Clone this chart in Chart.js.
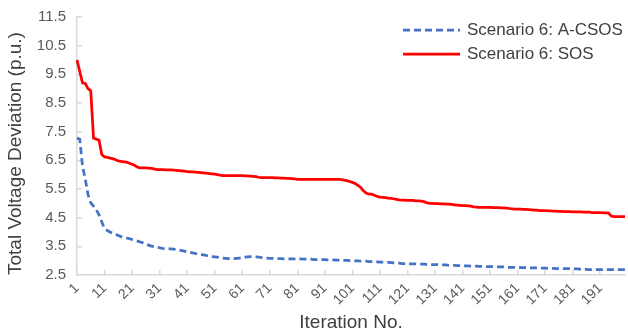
<!DOCTYPE html>
<html>
<head>
<meta charset="utf-8">
<script src="https://cdn.jsdelivr.net/npm/chart.js@4.4.0/dist/chart.umd.min.js"></script>
<style>
  html, body { margin: 0; padding: 0; background: #fff; }
  #wrap { width: 628px; height: 334px; }
</style>
</head>
<body>
<div id="wrap"><canvas id="convChart" width="628" height="334"></canvas></div>
<script>
// iteration numbers 1..200
const iterations = [];
for (let i = 1; i <= 200; i++) iterations.push(String(i));

const seriesNames = ["Scenario 6: A-CSOS", "Scenario 6: SOS"];

// Scenario 6: A-CSOS
const acsosValues = [
    7.28, 7.24, 6.3, 5.85, 5.3, 5.02, 4.9, 4.78, 4.6, 4.35,
    4.12, 4.05, 4.0, 3.95, 3.92, 3.88, 3.84, 3.81, 3.79, 3.77,
    3.74, 3.71, 3.68, 3.65, 3.62, 3.58, 3.54, 3.51, 3.49, 3.47,
    3.45, 3.43, 3.42, 3.42, 3.41, 3.4, 3.39, 3.37, 3.35, 3.33,
    3.31, 3.29, 3.27, 3.25, 3.23, 3.21, 3.2, 3.18, 3.16, 3.14,
    3.13, 3.12, 3.1, 3.09, 3.08, 3.07, 3.07, 3.07, 3.08, 3.09,
    3.1, 3.12, 3.13, 3.14, 3.14, 3.13, 3.12, 3.11, 3.1, 3.09,
    3.08, 3.08, 3.07, 3.07, 3.07, 3.06, 3.06, 3.06, 3.06, 3.06,
    3.07, 3.06, 3.05, 3.05, 3.05, 3.05, 3.04, 3.04, 3.04, 3.04,
    3.04, 3.03, 3.03, 3.03, 3.02, 3.02, 3.02, 3.01, 3.01, 3.0,
    3.0, 2.99, 2.99, 2.98, 2.98, 2.98, 2.97, 2.97, 2.96, 2.96,
    2.95, 2.95, 2.94, 2.94, 2.93, 2.92, 2.91, 2.91, 2.9, 2.9,
    2.9, 2.89, 2.89, 2.89, 2.88, 2.88, 2.88, 2.87, 2.87, 2.86,
    2.86, 2.86, 2.85, 2.85, 2.85, 2.84, 2.84, 2.84, 2.83, 2.83,
    2.82, 2.82, 2.82, 2.81, 2.81, 2.81, 2.8, 2.8, 2.8, 2.79,
    2.79, 2.79, 2.78, 2.78, 2.78, 2.78, 2.77, 2.77, 2.77, 2.77,
    2.76, 2.76, 2.76, 2.76, 2.75, 2.75, 2.75, 2.75, 2.74, 2.74,
    2.74, 2.73, 2.73, 2.73, 2.72, 2.72, 2.72, 2.72, 2.72, 2.72,
    2.71, 2.71, 2.71, 2.7, 2.7, 2.7, 2.69, 2.69, 2.69, 2.69,
    2.69, 2.69, 2.69, 2.69, 2.69, 2.69, 2.69, 2.69, 2.69, 2.69
];

// Scenario 6: SOS
const sosValues = [
    10.0, 9.6, 9.2, 9.18, 9.0, 8.92, 7.28, 7.24, 7.2, 6.7,
    6.62, 6.6, 6.58, 6.56, 6.52, 6.48, 6.46, 6.45, 6.44, 6.4,
    6.36, 6.32, 6.26, 6.24, 6.24, 6.24, 6.23, 6.22, 6.2, 6.18,
    6.18, 6.18, 6.17, 6.17, 6.17, 6.16, 6.15, 6.14, 6.13, 6.12,
    6.11, 6.1, 6.1, 6.09, 6.08, 6.07, 6.06, 6.05, 6.04, 6.03,
    6.02, 6.0, 5.98, 5.97, 5.97, 5.97, 5.97, 5.97, 5.97, 5.97,
    5.97, 5.96, 5.96, 5.95, 5.94, 5.93, 5.91, 5.9, 5.9, 5.9,
    5.9, 5.9, 5.89, 5.89, 5.88, 5.88, 5.87, 5.87, 5.86, 5.85,
    5.84, 5.84, 5.84, 5.84, 5.84, 5.84, 5.84, 5.84, 5.84, 5.84,
    5.84, 5.84, 5.84, 5.84, 5.84, 5.84, 5.83, 5.81, 5.79, 5.76,
    5.73, 5.69, 5.63, 5.55, 5.44, 5.36, 5.32, 5.32, 5.28, 5.24,
    5.22, 5.21, 5.2, 5.18, 5.17, 5.16, 5.14, 5.12, 5.11, 5.11,
    5.1, 5.1, 5.1, 5.09, 5.09, 5.08, 5.06, 5.02, 5.0, 5.0,
    4.99, 4.99, 4.98, 4.98, 4.97, 4.97, 4.96, 4.95, 4.94, 4.93,
    4.92, 4.92, 4.91, 4.9, 4.88, 4.87, 4.86, 4.86, 4.86, 4.86,
    4.86, 4.85, 4.85, 4.85, 4.84, 4.84, 4.83, 4.82, 4.81, 4.8,
    4.8, 4.8, 4.79, 4.79, 4.78, 4.77, 4.76, 4.76, 4.75, 4.75,
    4.75, 4.74, 4.74, 4.73, 4.73, 4.72, 4.72, 4.71, 4.71, 4.71,
    4.7, 4.7, 4.7, 4.7, 4.69, 4.69, 4.69, 4.68, 4.68, 4.68,
    4.68, 4.67, 4.67, 4.66, 4.56, 4.54, 4.54, 4.54, 4.54, 4.54
];

const yTicks = [2.5, 3.5, 4.5, 5.5, 6.5, 7.5, 8.5, 9.5, 10.5, 11.5];

const FONT = "'Liberation Sans', Arial, sans-serif";

// legend drawn in the top right corner of the plot
const cornerLegend = {
    id: "cornerLegend",
    afterDraw(chart) {
        const ctx = chart.ctx;
        const rows = [30, 54];
        ctx.save();
        chart.data.datasets.forEach((ds, i) => {
            const y = rows[i];
            ctx.beginPath();
            ctx.strokeStyle = ds.borderColor;
            ctx.lineWidth = ds.borderWidth;
            ctx.setLineDash(ds.borderDash || []);
            ctx.moveTo(403, y);
            ctx.lineTo(460, y);
            ctx.stroke();
            ctx.setLineDash([]);
            ctx.fillStyle = "#404040";
            ctx.font = "17px " + FONT;
            ctx.textBaseline = "middle";
            ctx.textAlign = "left";
            ctx.fillText(ds.label, 467, y);
        });
        ctx.restore();
    }
};

new Chart(document.getElementById("convChart"), {
    type: "line",
    data: {
        labels: iterations,
        datasets: [
            {
                label: seriesNames[0],
                data: acsosValues,
                borderColor: "#4472C4",
                borderWidth: 2.75,
                borderDash: [7, 4],
                pointRadius: 0,
                tension: 0,
                fill: false
            },
            {
                label: seriesNames[1],
                data: sosValues,
                borderColor: "#FF0000",
                borderWidth: 2.75,
                pointRadius: 0,
                tension: 0,
                fill: false
            }
        ]
    },
    options: {
        responsive: false,
        animation: false,
        layout: { padding: { top: 17, right: 3, left: 0, bottom: 0 } },
        plugins: {
            legend: { display: false },
            tooltip: { enabled: false }
        },
        scales: {
            x: {
                type: "category",
                offset: false,
                grid: {
                    drawOnChartArea: false,
                    drawTicks: true,
                    tickLength: -5,
                    color: "#d9d9d9",
                    lineWidth: 1.5
                },
                border: { color: "#d9d9d9", width: 1.5 },
                ticks: {
                    autoSkip: false,
                    minRotation: 45,
                    maxRotation: 45,
                    padding: 10,
                    color: "#595959",
                    font: { family: FONT, size: 14 },
                    callback: function(value, index) {
                        return index % 10 === 0 ? this.getLabelForValue(value) : null;
                    }
                },
                title: {
                    display: true,
                    text: "Iteration No.",
                    color: "#404040",
                    font: { family: FONT, size: 19 },
                    padding: { top: 0, bottom: 0 }
                },
                afterFit: function(scale) { scale.height = 59; }
            },
            y: {
                min: 2.5,
                max: 11.5,
                grid: {
                    drawOnChartArea: false,
                    drawTicks: true,
                    tickLength: -5,
                    color: "#d9d9d9",
                    lineWidth: 1.5
                },
                border: { color: "#d9d9d9", width: 1.5 },
                afterBuildTicks: function(scale) {
                    scale.ticks = yTicks.map(v => ({ value: v }));
                },
                ticks: {
                    padding: 16,
                    color: "#595959",
                    font: { family: FONT, size: 15 },
                    callback: function(value) { return Number(value).toFixed(1); }
                },
                title: {
                    display: true,
                    text: "Total Voltage Deviation (p.u.)",
                    align: "start",
                    color: "#404040",
                    font: { family: FONT, size: 19 },
                    padding: { top: 4, bottom: 0 }
                },
                afterFit: function(scale) {
                    scale.width = 77;
                    scale.paddingTop = 8;
                    scale.paddingBottom = 8;
                }
            }
        }
    },
    plugins: [cornerLegend]
});
</script>
</body>
</html>
